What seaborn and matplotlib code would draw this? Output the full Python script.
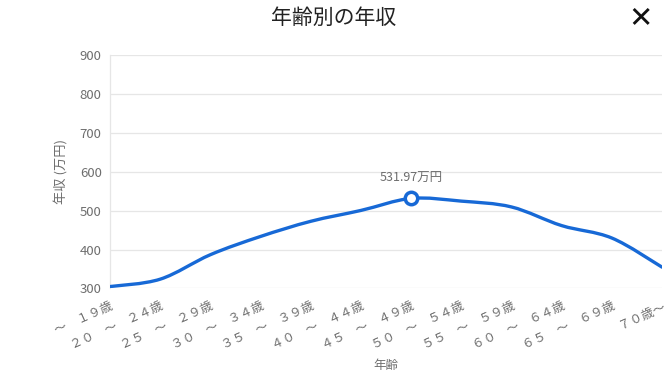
import numpy as np
import pandas as pd
import matplotlib.pyplot as plt
import seaborn as sns
from matplotlib.path import Path
from matplotlib.patches import PathPatch

# age brackets and average annual income (万円)
age_labels = ["～　１９歳", "２０　～　２４歳", "２５　～　２９歳", "３０　～　３４歳",
              "３５　～　３９歳", "４０　～　４４歳", "４５　～　４９歳", "５０　～　５４歳",
              "５５　～　５９歳", "６０　～　６４歳", "６５　～　６９歳", "７０歳～"]
income = [305, 324, 387, 434, 473, 501, 531.97, 525, 510, 462, 430, 355]
y_ticks = [300, 400, 500, 600, 700, 800, 900]

line_color = "#1769d6"
text_gray = "#6e6e6e"

sns.set_style("white")
plt.rcParams["font.family"] = ["Noto Sans CJK JP", "DejaVu Sans"]

df = pd.DataFrame({"pos": np.arange(len(income)), "income": income})

fig = plt.figure(figsize=(6.67, 3.84), dpi=100)
ax = fig.add_axes([0.1649, 0.2487, 0.9925 - 0.1649, 0.8555 - 0.2487])

# smooth curve through the points (Catmull-Rom as cubic Bezier segments)
pts = df[["pos", "income"]].to_numpy(dtype=float)
verts = [pts[0]]
codes = [Path.MOVETO]
n = len(pts)
for i in range(n - 1):
    p0 = pts[max(i - 1, 0)]
    p1 = pts[i]
    p2 = pts[i + 1]
    p3 = pts[min(i + 2, n - 1)]
    c1 = p1 + (p2 - p0) / 6.0
    c2 = p2 - (p3 - p1) / 6.0
    verts += [c1, c2, p2]
    codes += [Path.CURVE4] * 3
ax.add_patch(PathPatch(Path(verts, codes), facecolor="none", edgecolor=line_color,
                       lw=2.4, capstyle="round", zorder=3))

# highlight the peak
peak = df.loc[df["income"].idxmax()]
sns.scatterplot(x=[peak["pos"]], y=[peak["income"]], ax=ax, s=80, color="white",
                edgecolor=line_color, linewidth=2.5, zorder=4, legend=False)
ax.annotate(f"{peak['income']:.2f}万円", (peak["pos"], peak["income"]),
            xytext=(0, 10), textcoords="offset points", ha="center", va="bottom",
            fontsize=9, color=text_gray)

ax.set_xlim(0, len(income) - 1)
ax.set_ylim(300, 900)
ax.set_yticks(y_ticks)
ax.set_xticks(df["pos"])
ax.set_xticklabels(age_labels, rotation=24, ha="right", rotation_mode="anchor",
                   fontsize=9, color=text_gray)
ax.tick_params(axis="y", labelsize=9.5, labelcolor=text_gray, length=0, pad=6)
ax.tick_params(axis="x", length=0, pad=8)
ax.grid(axis="y", color="#e6e6e6", lw=0.9)
ax.set_axisbelow(True)
for side in ["top", "right", "bottom"]:
    ax.spines[side].set_visible(False)
ax.spines["left"].set_color("#e6e6e6")
ax.spines["left"].set_linewidth(0.9)

ax.set_ylabel("年収 (万円)", fontsize=9.5, color=text_gray, labelpad=8)
ax.set_xlabel("年齢", fontsize=9, color=text_gray, labelpad=5)

fig.text(0.5, 1 - 18 / 384, "年齢別の年収", ha="center", va="center",
         fontsize=15, color="#222222")
fig.text(640 / 667, 1 - 18 / 384, "✕", ha="center", va="center", fontsize=21,
         color="#111111", family="DejaVu Sans")

fig.savefig("out.png", dpi=100)
